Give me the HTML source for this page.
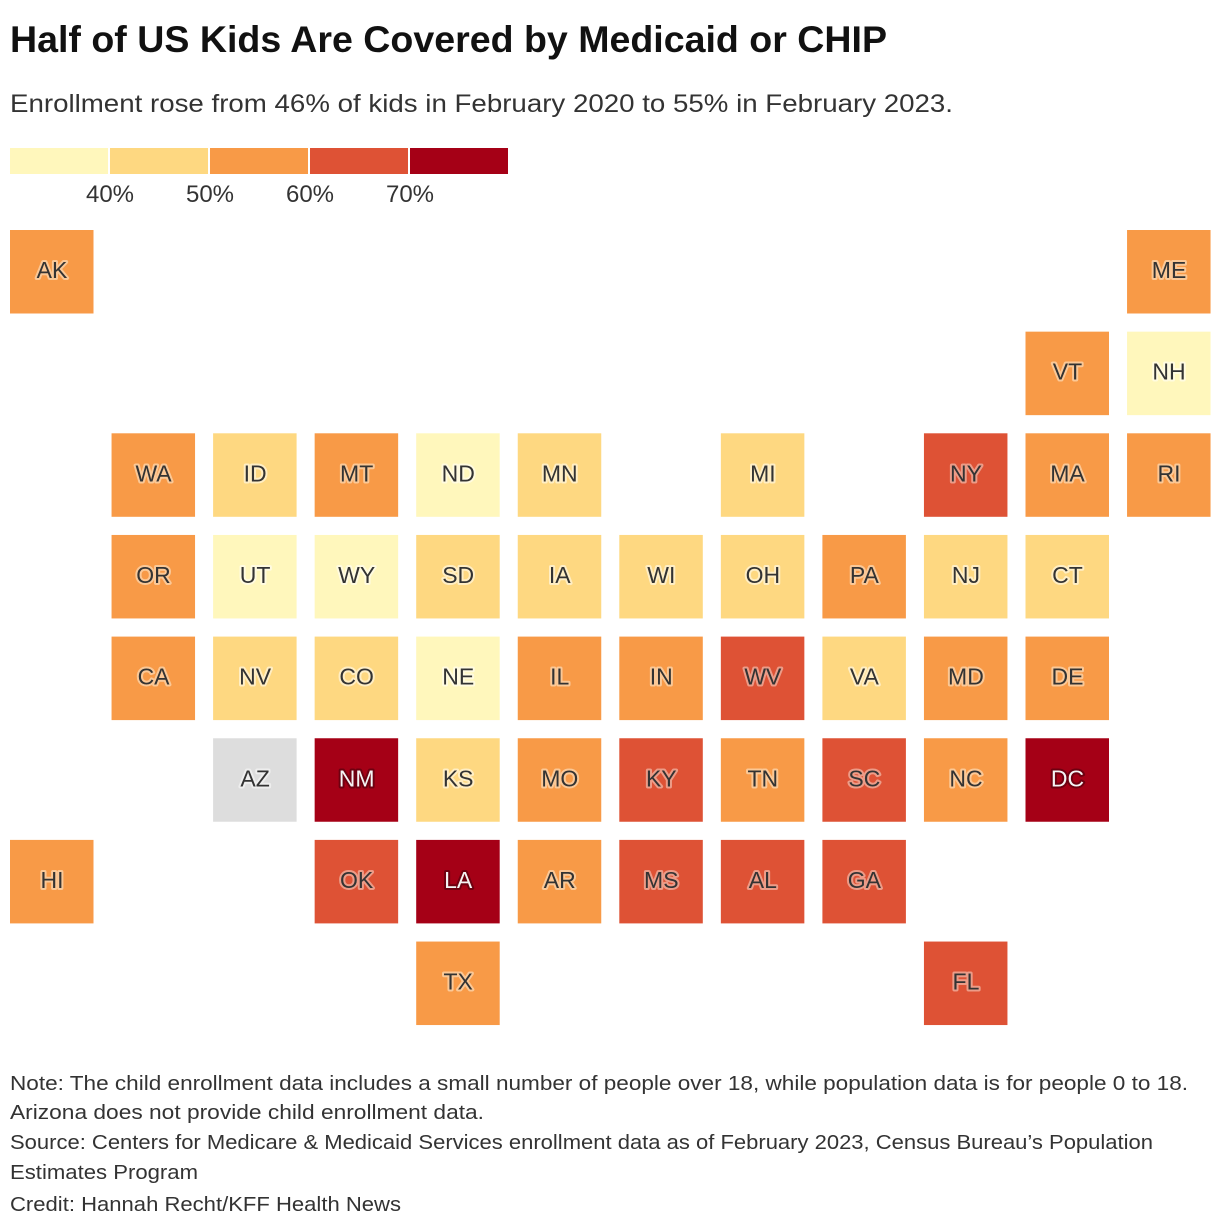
<!DOCTYPE html>
<html><head><meta charset="utf-8"><style>
html,body{margin:0;padding:0;background:#fff;}
svg{display:block;font-family:"Liberation Sans",sans-serif;}
.lbl{font-size:23px;paint-order:stroke;stroke-width:4px;stroke-linejoin:round;text-anchor:middle;dominant-baseline:central;}
</style></head><body>
<svg id="chart" width="1220" height="1230" viewBox="0 0 1220 1230">
<text x="10" y="52" font-size="37" font-weight="bold" fill="#111" textLength="877" lengthAdjust="spacingAndGlyphs">Half of US Kids Are Covered by Medicaid or CHIP</text>
<text x="10" y="112" font-size="25" fill="#333" textLength="943" lengthAdjust="spacingAndGlyphs">Enrollment rose from 46% of kids in February 2020 to 55% in February 2023.</text>
<g id="legend"></g>
<g id="tiles"></g>
<g font-size="20" fill="#333">
<text x="10" y="1090" textLength="1178" lengthAdjust="spacingAndGlyphs">Note: The child enrollment data includes a small number of people over 18, while population data is for people 0 to 18.</text>
<text x="10" y="1119" textLength="474" lengthAdjust="spacingAndGlyphs">Arizona does not provide child enrollment data.</text>
<text x="10" y="1149" textLength="1143" lengthAdjust="spacingAndGlyphs">Source: Centers for Medicare &amp; Medicaid Services enrollment data as of February 2023, Census Bureau’s Population</text>
<text x="10" y="1179" textLength="188" lengthAdjust="spacingAndGlyphs">Estimates Program</text>
<text x="10" y="1211" textLength="391" lengthAdjust="spacingAndGlyphs">Credit: Hannah Recht/KFF Health News</text>
</g>
</svg>
<script>
const states = ["AK","ME","VT","NH","WA","ID","MT","ND","MN","MI","NY","MA","RI","OR","UT","WY","SD","IA","WI","OH","PA","NJ","CT","CA","NV","CO","NE","IL","IN","WV","VA","MD","DE","AZ","NM","KS","MO","KY","TN","SC","NC","DC","HI","OK","LA","AR","MS","AL","GA","TX","FL"];
const gridCol = [0,11,10,11,1,2,3,4,5,7,9,10,11,1,2,3,4,5,6,7,8,9,10,1,2,3,4,5,6,7,8,9,10,2,3,4,5,6,7,8,9,10,0,3,4,5,6,7,8,4,9];
const gridRow = [0,0,1,1,2,2,2,2,2,2,2,2,2,3,3,3,3,3,3,3,3,3,3,4,4,4,4,4,4,4,4,4,4,5,5,5,5,5,5,5,5,5,6,6,6,6,6,6,6,7,7];
const values = [55,54,53,36,55,45,53,38,46,47,62,53,55,54,35,38,44,46,46,48,55,47,48,55,47,44,37,55,54,66,45,53,54,null,72,44,55,63,55,61,56,73,54,62,72,57,64,62,61,54,63];
const thresholds = [40,50,60,70];
const tickLabels = ["40%","50%","60%","70%"];
const colors = ["#fff7bc","#fed881","#f89a47","#de5235","#a50016"];
const haloColors = ["#fffbe0","#ffeec4","#fbc896","#ec9c88","#6e0010"];
const textColors = ["#333","#333","#333","#333","#f4f4f4"];
const NS="http://www.w3.org/2000/svg";
function binOf(v){let i=0;while(i<thresholds.length&&v>=thresholds[i])i++;return i;}
function xPos(c){return 10+c*101.55;}
function yPos(r){return 230+r*101.65;}
const leg=document.getElementById('legend');
colors.forEach((c,i)=>{
  const r=document.createElementNS(NS,'rect');
  r.setAttribute('x',10+i*100);r.setAttribute('y',148);r.setAttribute('width',98);r.setAttribute('height',26);r.setAttribute('fill',c);
  
  
  leg.appendChild(r);
});
tickLabels.forEach((t,i)=>{
  const tx=document.createElementNS(NS,'text');
  tx.setAttribute('x',110+i*100);tx.setAttribute('y',202);tx.setAttribute('font-size','24');tx.setAttribute('fill','#333');tx.setAttribute('text-anchor','middle');
  tx.textContent=t;
  
  
  leg.appendChild(tx);
});
const tg=document.getElementById('tiles');
states.forEach((s,i)=>{
  const v=values[i];const b=v==null?-1:binOf(v);
  const g=document.createElementNS(NS,'g');
  
  
  const x=xPos(gridCol[i]),y=yPos(gridRow[i]);
  const r=document.createElementNS(NS,'rect');
  r.setAttribute('x',x);r.setAttribute('y',y);r.setAttribute('width',83.5);r.setAttribute('height',83.5);
  r.setAttribute('fill',b<0?'#dddddd':colors[b]);
  
  
  g.appendChild(r);
  const t=document.createElementNS(NS,'text');
  t.setAttribute('class','lbl');t.setAttribute('x',x+42);t.setAttribute('y',y+40);
  t.setAttribute('stroke',b<0?'#eeeeee':haloColors[b]);
  t.setAttribute('fill',b<0?'#333':textColors[b]);
  t.textContent=s;
  
  
  g.appendChild(t);
  tg.appendChild(g);
});
</script>
</body></html>
